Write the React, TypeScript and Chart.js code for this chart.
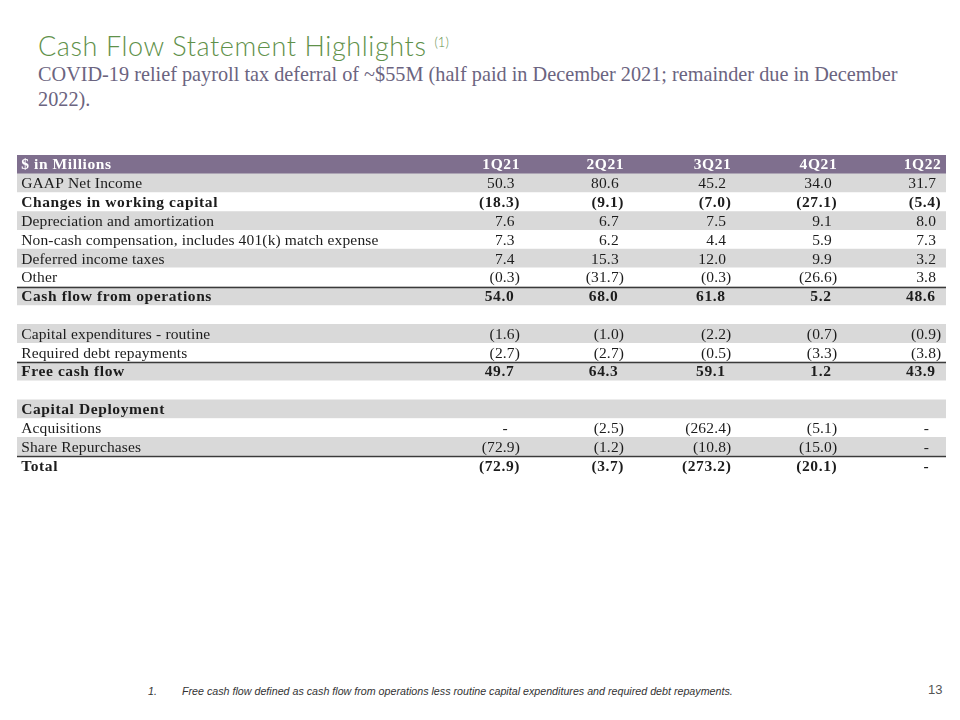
import React, { useEffect, useRef } from 'react';
import { Chart, registerables } from 'chart.js';

Chart.register(...registerables);

// ---------------- data ----------------
const headerLabel = '$ in Millions';
const quarters = ['1Q21', '2Q21', '3Q21', '4Q21', '1Q22'];
const rowLabels = [
  'GAAP Net Income',
  'Changes in working capital',
  'Depreciation and amortization',
  'Non-cash compensation, includes 401(k) match expense',
  'Deferred income taxes',
  'Other',
  'Cash flow from operations',
  '',
  'Capital expenditures - routine',
  'Required debt repayments',
  'Free cash flow',
  '',
  'Capital Deployment',
  'Acquisitions',
  'Share Repurchases',
  'Total',
];
const boldRows = [
  'Changes in working capital',
  'Cash flow from operations',
  'Free cash flow',
  'Capital Deployment',
  'Total',
];
const ruleAboveRows = ['Cash flow from operations', 'Free cash flow', 'Total'];

// values per quarter (null = empty cell, 0 = "-")
const v1Q21 = [50.3, -18.3, 7.6, 7.3, 7.4, -0.3, 54.0, null, -1.6, -2.7, 49.7, null, null, 0, -72.9, -72.9];
const v2Q21 = [80.6, -9.1, 6.7, 6.2, 15.3, -31.7, 68.0, null, -1.0, -2.7, 64.3, null, null, -2.5, -1.2, -3.7];
const v3Q21 = [45.2, -7.0, 7.5, 4.4, 12.0, -0.3, 61.8, null, -2.2, -0.5, 59.1, null, null, -262.4, -10.8, -273.2];
const v4Q21 = [34.0, -27.1, 9.1, 5.9, 9.9, -26.6, 5.2, null, -0.7, -3.3, 1.2, null, null, -5.1, -15.0, -20.1];
const v1Q22 = [31.7, -5.4, 8.0, 7.3, 3.2, 3.8, 48.6, null, -0.9, -3.8, 43.9, null, null, 0, 0, 0];
const seriesValues = [v1Q21, v2Q21, v3Q21, v4Q21, v1Q22];

// ---------------- layout / style ----------------
const COL_RIGHT = [54.15, 65.35, 76.9, 88.3, 99.5]; // x-scale units (0..100)
const LABEL_X = 0.45;
const HEADER_BG = '#7f6f8e';
const GRAY_BG = '#d9d9d9';
const WHITE_BG = '#ffffff';
const TEXT = '#1c1c1c';
const SERIF = "'Liberation Serif', 'Times New Roman', serif";
const FONT_PX = 15.5;

function fmt(v: number | null): string {
  if (v === null || v === undefined) return '';
  if (v === 0) return '-';
  if (v < 0) return '(' + Math.abs(v).toFixed(1) + ')';
  return v.toFixed(1);
}

function setFont(ctx: any, bold: boolean) {
  ctx.font = `${bold ? 'bold ' : ''}${FONT_PX}px ${SERIF}`;
  try {
    ctx.letterSpacing = bold ? '0.6px' : '0.15px';
  } catch (e) {
    /* ignore */
  }
}

const tablePlugin = {
  id: 'tableText',
  afterDatasetsDraw(chart: any) {
    const { ctx, scales, chartArea } = chart;
    const x = scales.x;
    const y = scales.y;
    const rowH = y.getPixelForValue(1) - y.getPixelForValue(0);
    ctx.save();
    ctx.textBaseline = 'middle';

    // header row
    const hy = y.getPixelForValue(0) + 1;
    ctx.fillStyle = '#ffffff';
    setFont(ctx, true);
    ctx.textAlign = 'left';
    ctx.fillText(headerLabel, x.getPixelForValue(LABEL_X), hy);
    ctx.textAlign = 'right';
    quarters.forEach((q, c) => {
      ctx.fillText(q, x.getPixelForValue(COL_RIGHT[c]), hy);
    });

    // body rows
    rowLabels.forEach((label, r) => {
      const idx = r + 1;
      const yc = y.getPixelForValue(idx) + 1;
      const bold = boldRows.includes(label);
      setFont(ctx, bold);
      ctx.fillStyle = TEXT;
      ctx.textAlign = 'left';
      ctx.fillText(label, x.getPixelForValue(LABEL_X), yc);
      const parenW = ctx.measureText(')').width;
      seriesValues.forEach((vals, c) => {
        const v = vals[r];
        const s = fmt(v);
        if (!s) return;
        const right = x.getPixelForValue(COL_RIGHT[c]);
        if (s === '-') {
          ctx.textAlign = 'center';
          ctx.fillText(s, right - 15, yc);
        } else if (s.startsWith('(')) {
          ctx.textAlign = 'right';
          ctx.fillText(s, right, yc);
        } else {
          ctx.textAlign = 'right';
          ctx.fillText(s, right - parenW, yc);
        }
      });
      if (ruleAboveRows.includes(label)) {
        const top = Math.round(y.getPixelForValue(idx) - rowH / 2) + 0.5;
        ctx.strokeStyle = '#3a3a3a';
        ctx.lineWidth = 1.5;
        ctx.beginPath();
        ctx.moveTo(chartArea.left, top);
        ctx.lineTo(chartArea.right, top);
        ctx.stroke();
      }
    });
    ctx.restore();
  },
};

function TableChart() {
  const ref = useRef<HTMLCanvasElement | null>(null);
  useEffect(() => {
    if (!ref.current) return;
    const categories = [headerLabel, ...rowLabels.map((l, i) => l || `blank${i}`)];
    const colors = categories.map((_, i) => (i === 0 ? HEADER_BG : i % 2 === 1 ? GRAY_BG : WHITE_BG));
    const chart = new Chart(ref.current, {
      type: 'bar',
      data: {
        labels: categories,
        datasets: [
          {
            data: categories.map(() => [0, 100]) as any,
            backgroundColor: colors,
            borderWidth: 0,
            barPercentage: 1,
            categoryPercentage: 1,
          },
        ],
      },
      options: {
        indexAxis: 'y',
        animation: false,
        responsive: true,
        maintainAspectRatio: false,
        layout: { padding: 0 },
        plugins: { legend: { display: false }, tooltip: { enabled: false }, title: { display: false } },
        scales: {
          x: { type: 'linear', min: 0, max: 100, display: false, grid: { display: false } },
          y: { type: 'category', display: false, offset: true, grid: { display: false } },
        },
      },
      plugins: [tablePlugin],
    });
    return () => chart.destroy();
  }, []);
  return <canvas ref={ref} />;
}

export default function App() {
  return (
    <div style={{ position: 'fixed', left: 0, top: 0, width: 960, height: 720, background: '#fff', overflow: 'hidden' }}>
      <div
        style={{
          position: 'absolute',
          left: 38,
          top: 31,
          fontFamily: "Lato, 'Open Sans', sans-serif",
          fontWeight: 300,
          fontSize: 27,
          letterSpacing: '0.6px',
          color: '#5f914a',
          whiteSpace: 'nowrap',
          lineHeight: '30px',
        }}
      >
        Cash Flow Statement Highlights{' '}
        <span style={{ fontSize: 13, letterSpacing: 0, position: 'relative', top: -9 }}>(1)</span>
      </div>
      <div
        style={{
          position: 'absolute',
          left: 38,
          top: 62,
          fontFamily: SERIF,
          fontSize: 20.25,
          color: '#6b6480',
          whiteSpace: 'nowrap',
          lineHeight: '25px',
        }}
      >
        COVID-19 relief payroll tax deferral of ~$55M (half paid in December 2021; remainder due in December
        <br />
        2022).
      </div>
      <div style={{ position: 'absolute', left: 17, top: 155, width: 929, height: 320 }}>
        <TableChart />
      </div>
      <div
        style={{
          position: 'absolute',
          left: 148,
          top: 685,
          fontFamily: "'Liberation Sans', Arial, sans-serif",
          fontStyle: 'italic',
          fontSize: 10.7,
          color: '#333',
          whiteSpace: 'nowrap',
        }}
      >
        <span style={{ display: 'inline-block', width: 34 }}>1.</span>
        Free cash flow defined as cash flow from operations less routine capital expenditures and required debt repayments.
      </div>
      <div
        style={{
          position: 'absolute',
          left: 928,
          top: 682,
          fontFamily: "'Liberation Sans', Arial, sans-serif",
          fontSize: 13,
          color: '#555',
        }}
      >
        13
      </div>
    </div>
  );
}
